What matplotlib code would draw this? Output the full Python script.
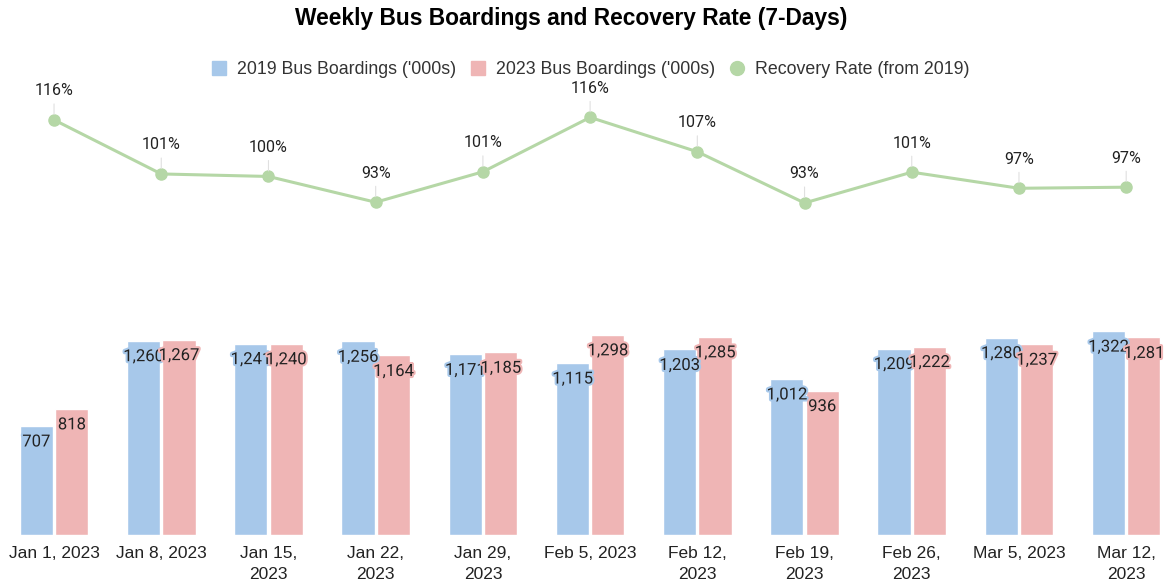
import matplotlib
matplotlib.use("Agg")
import matplotlib.pyplot as plt
import matplotlib.patheffects as pe
from matplotlib.lines import Line2D
import numpy as np

plt.rcParams['font.family'] = ['Roboto', 'DejaVu Sans']

# data
weeks = ["Jan 1, 2023", "Jan 8, 2023", "Jan 15,\n2023", "Jan 22,\n2023", "Jan 29,\n2023",
         "Feb 5, 2023", "Feb 12,\n2023", "Feb 19,\n2023", "Feb 26,\n2023", "Mar 5, 2023",
         "Mar 12,\n2023"]
boardings_2019 = [707, 1260, 1241, 1256, 1171, 1115, 1203, 1012, 1209, 1280, 1322]
boardings_2023 = [818, 1267, 1240, 1164, 1185, 1298, 1285, 936, 1222, 1237, 1281]
recovery = [115.7, 100.6, 99.9, 92.7, 101.2, 116.4, 106.8, 92.5, 101.1, 96.6, 96.9]
recovery_labels = ["116%", "101%", "100%", "93%", "101%", "116%", "107%", "93%", "101%", "97%", "97%"]

c19 = "#a7c8ea"
c23 = "#efb5b5"
cline = "#b5d7a6"
arial = ["Liberation Sans", "DejaVu Sans"]

fig = plt.figure(figsize=(11.68, 5.87), dpi=100)
x = np.arange(len(weeks))
xlim = (-0.504, 10.39)

# bars
ax = fig.add_axes([0, 0.0886, 1, 0.3678])
w = 0.31
b1 = ax.bar(x - 0.165, boardings_2019, w, color=c19, edgecolor="white", linewidth=1)
b2 = ax.bar(x + 0.165, boardings_2023, w, color=c23, edgecolor="white", linewidth=1)
ax.set_xlim(*xlim)
ax.set_ylim(0, 1400)
for bars, vals, col in [(b1, boardings_2019, c19), (b2, boardings_2023, c23)]:
    for r, v in zip(bars, vals):
        ax.annotate(f"{v:,}", (r.get_x() + r.get_width() / 2, v), xytext=(0, -16),
                    textcoords="offset pixels", ha="center", va="center", fontsize=12,
                    color="#222222",
                    path_effects=[pe.withStroke(linewidth=3, foreground=col)])
ax.set_xticks(x)
ax.set_xticklabels(weeks, fontsize=12.5, color="#222222", linespacing=1.45, va="top",
                   family=arial)
ax.tick_params(axis="x", length=0, pad=8)
ax.set_yticks([])
for s in ax.spines.values():
    s.set_visible(False)

# recovery line
ax2 = fig.add_axes([0, 0.6085, 1, 0.244])
ax2.plot(x, recovery, color=cline, lw=2.2, marker="o", markersize=8, zorder=3)
ax2.set_xlim(*xlim)
ax2.set_ylim(85, 125)
for xi, v, lab in zip(x, recovery, recovery_labels):
    ax2.annotate(lab, (xi, v), xytext=(0, 29), textcoords="offset pixels",
                 ha="center", va="center", fontsize=11.5, color="#222222",
                 arrowprops=dict(arrowstyle="-", color="#e0e0e0", lw=0.8,
                                 shrinkA=2, shrinkB=4))
ax2.axis("off")

fig.text(0.489, 0.969, "Weekly Bus Boardings and Recovery Rate (7-Days)",
         ha="center", va="center", fontsize=16.4, fontweight="bold", family=arial)

handles = [Line2D([], [], marker="s", ls="", color=c19, markersize=10),
           Line2D([], [], marker="s", ls="", color=c23, markersize=10),
           Line2D([], [], marker="o", ls="", color=cline, markersize=10)]
fig.legend(handles, ["2019 Bus Boardings ('000s)", "2023 Bus Boardings ('000s)",
                     "Recovery Rate (from 2019)"],
           loc="center", bbox_to_anchor=(0.505, 0.881), ncol=3, frameon=False,
           prop={"family": arial, "size": 12.8}, handlelength=1.0, handletextpad=0.5,
           columnspacing=0.75, labelcolor="#333333")

fig.savefig("out.png", dpi=100)
